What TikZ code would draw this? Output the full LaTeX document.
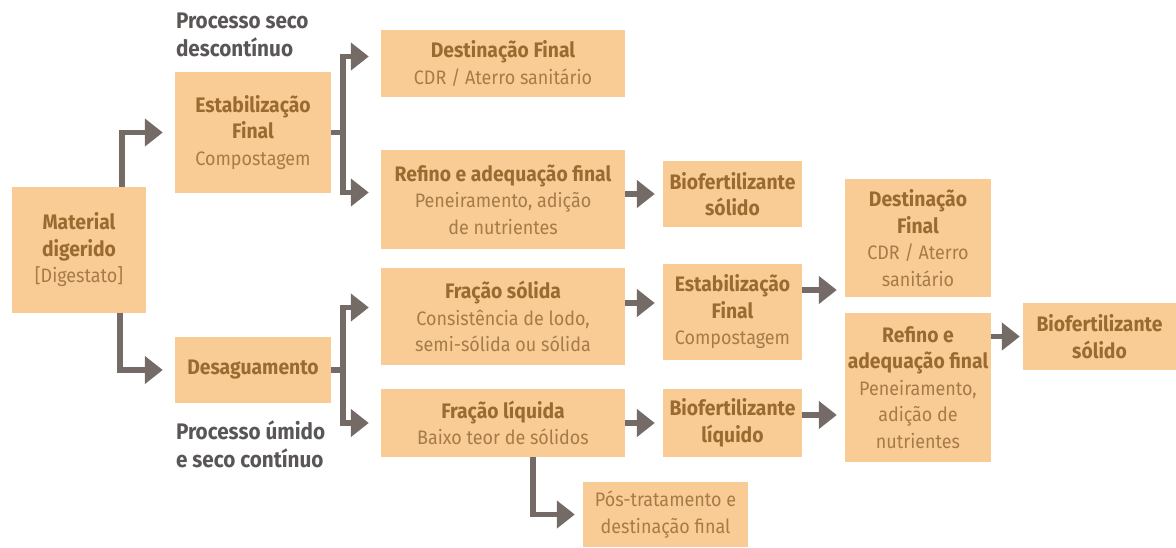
\documentclass[tikz,border=0pt]{standalone}
\usepackage{fontspec}
\setmainfont{Fira Sans}[FakeStretch=0.92]
\usetikzlibrary{arrows.meta}

\definecolor{boxfill}{HTML}{F9CC96}
\definecolor{arrowgray}{HTML}{746A66}
\definecolor{titlebrown}{HTML}{9A6B31}
\definecolor{subbrown}{HTML}{A57B47}
\definecolor{labelgray}{HTML}{5A5656}

\newcommand{\dsc}[1]{{\fontsize{19.5}{26.5}\selectfont\mdseries\color{subbrown}#1}}

\tikzset{
  box/.style={fill=boxfill, align=center, inner sep=2pt, text=titlebrown,
    font=\fontsize{21}{26.5}\selectfont\bfseries},
  arr/.style={draw=arrowgray, line width=5.5pt, -{Triangle[length=18pt,width=27pt]}, shorten >=12pt},
  stub/.style={draw=arrowgray, line width=5.5pt},
  lbl/.style={align=left, text=labelgray, font=\fontsize{22.5}{28}\selectfont\bfseries, inner sep=0pt},
}

\begin{document}
\begin{tikzpicture}[x=1pt, y=-1pt]
    \useasboundingbox (0,0) rectangle (1176,547);

    % First column
    \node[box, minimum width=134pt, minimum height=126pt] (mat) at (79,250) {Material\\digerido\\\dsc{[Digestato]}};

    % Second column
    \node[box, minimum width=156pt, minimum height=121pt] (estab1) at (253,132.5) {Estabilização\\Final\\\dsc{Compostagem}};
    \node[box, minimum width=156pt, minimum height=66pt] (desag) at (253,370) {Desaguamento};
    \node[lbl, anchor=south west] (lblseco) at ([xshift=1pt, yshift=15pt]estab1.north west) {Processo seco\\descontínuo};
    \node[lbl, anchor=north west] (lblumido) at ([xshift=1pt, yshift=-17pt]desag.south west) {Processo úmido\\e seco contínuo};

    % Third column
    \node[box, minimum width=244pt, minimum height=67pt] (dest1) at (503,63.5) {Destinação Final\\\dsc{CDR / Aterro sanitário}};
    \node[box, minimum width=244pt, minimum height=99pt] (refino1) at (503,199.5) {Refino e adequação final\\\dsc{Peneiramento, adição}\\\dsc{de nutrientes}};
    \node[box, minimum width=244pt, minimum height=97pt] (fsol) at (503,316.5) {Fração sólida\\\dsc{Consistência de lodo,}\\\dsc{semi-sólida ou sólida}};
    \node[box, minimum width=244pt, minimum height=68pt] (fliq) at (503,423) {Fração líquida\\\dsc{Baixo teor de sólidos}};

    % Fourth column
    \node[box, minimum width=139pt, minimum height=66pt] (bio1) at (732.5,194) {Biofertilizante\\sólido};
    \node[box, minimum width=139pt, minimum height=96pt] (estab2) at (732.5,312) {Estabilização\\Final\\\dsc{Compostagem}};
    \node[box, minimum width=139pt, minimum height=68pt] (bioliq) at (732.5,423) {Biofertilizante\\líquido};
    \node[box, minimum width=165pt, minimum height=65pt] (pos) at (665.5,514.5) {\dsc{Pós-tratamento e}\\\dsc{destinação final}};

    % Fifth and sixth column
    \node[box, minimum width=146pt, minimum height=118pt] (dest2) at (918,238) {Destinação\\Final\\\dsc{CDR / Aterro}\\\dsc{sanitário}};
    \node[box, minimum width=146pt, minimum height=149pt] (refino2) at (918,387.5) {Refino e\\adequação final\\\dsc{Peneiramento,}\\\dsc{adição de}\\\dsc{nutrientes}};
    \node[box, minimum width=153pt, minimum height=67pt] (bio2) at (1099.5,336.5) {Biofertilizante\\sólido};

    % Arrows from the digestate
    \draw[arr] ([xshift=-24pt]mat.north east) |- (estab1);
    \draw[arr] ([xshift=-26pt]mat.south east) |- (desag);

    % Forks
    \draw[stub] (estab1.east) -- ++(12,0) coordinate (fork1);
    \draw[arr] (fork1) |- ([yshift=7pt]dest1.west);
    \draw[arr] (fork1) |- ([yshift=7pt]refino1.west);
    \draw[stub] (desag.east) -- ++(12,0) coordinate (fork2);
    \draw[arr] (fork2) |- ([yshift=9pt]fsol.west);
    \draw[arr] (fork2) |- (fliq.west);

    % Straight arrows
    \draw[arr, shorten >=8pt] (refino1.east |- bio1) -- (bio1.west);
    \draw[arr, shorten >=8pt] ([yshift=9pt]estab2.west -| fsol.east) -- ([yshift=9pt]estab2.west);
    \draw[arr, shorten >=8pt] (fliq.east) -- (bioliq.west);
    \draw[arr, shorten >=8pt] ([xshift=30pt]fliq.south) |- (pos.west);
    \draw[arr, shorten >=8pt] ([yshift=22pt]estab2.east) -- ([yshift=22pt]estab2.east -| dest2.west);
    \draw[arr, shorten >=8pt] ([yshift=8pt]bioliq.east) -- ([yshift=8pt]bioliq.east -| refino2.west);
    \draw[arr, shorten >=3pt] (refino2.east |- bio2) -- (bio2.west);
\end{tikzpicture}
\end{document}
